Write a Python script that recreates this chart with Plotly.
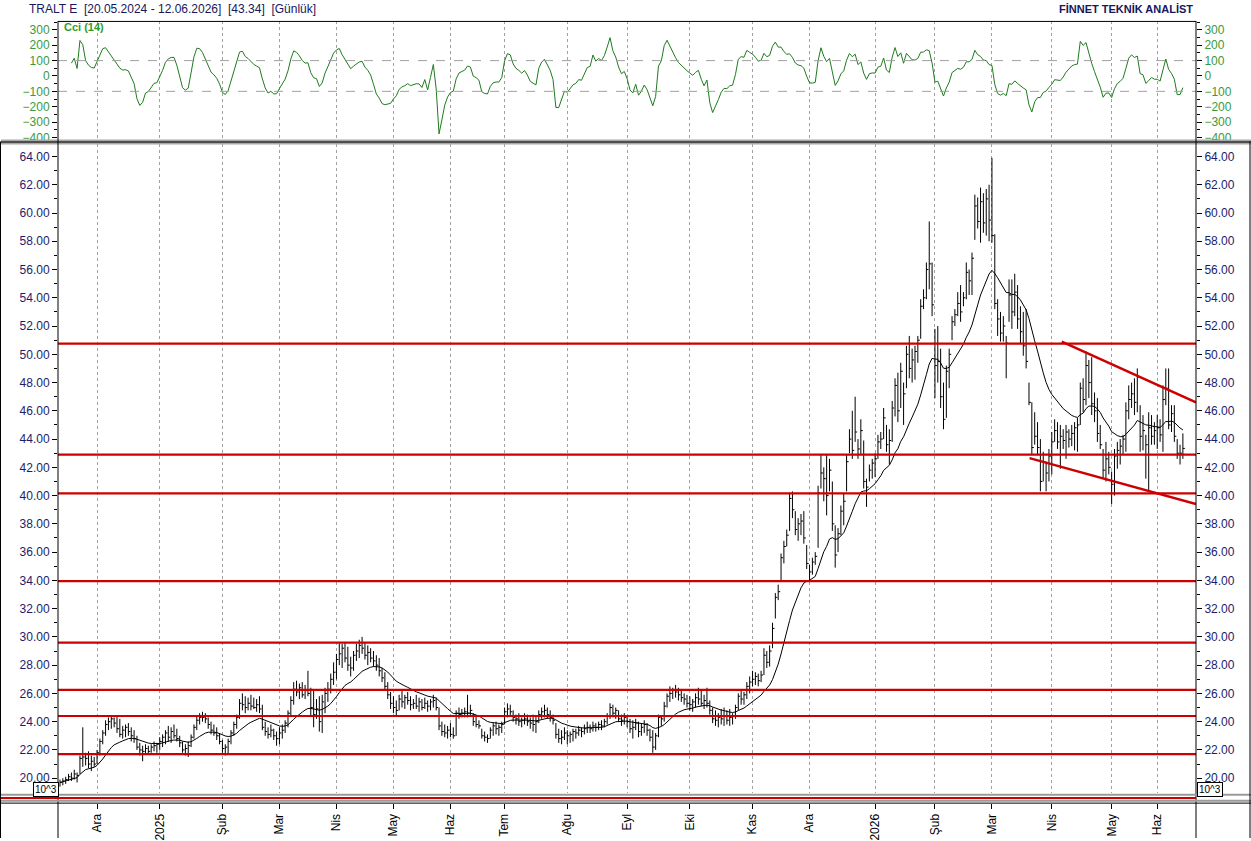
import numpy as np
import pandas as pd
import plotly.graph_objects as go

# ---------------- data ----------------
start_date = "2024-11-13"
end_date = "2026-06-12"
holidays = ["2025-01-01", "2025-03-31", "2025-04-01", "2025-04-23", "2025-05-01",
            "2025-05-19", "2025-06-06", "2025-06-09", "2025-07-15", "2025-10-29",
            "2026-01-01", "2026-03-20", "2026-04-23", "2026-05-01", "2026-05-19",
            "2026-05-27", "2026-05-28", "2026-05-29"]
month_names = ["Oca", "Şub", "Mar", "Nis", "May", "Haz", "Tem", "Ağu", "Eyl", "Eki", "Kas", "Ara"]

high = (
    [19.9, 20.0, 20.1, 20.3, 20.4, 20.6, 20.4, 21.6, 23.6, 21.8, 21.9, 21.6, 21.5]  # Nov24
    + [22.0, 22.8, 23.4, 24.1, 24.3, 24.4, 24.3, 24.4, 24.2, 23.7, 23.8, 23.9, 23.6, 23.4, 23.0, 22.5, 22.3, 22.4, 22.3, 22.4, 22.6, 22.5]
    + [22.9, 23.1, 23.4, 23.7, 23.6, 23.8, 23.5, 23.0, 22.6, 22.4, 22.6, 23.1, 23.8, 24.4, 24.6, 24.7, 24.6, 24.3, 24.0, 23.8, 23.6, 23.2]
    + [22.7, 22.4, 22.8, 23.4, 24.0, 24.5, 25.6, 26.0, 25.8, 25.7, 25.9, 25.7, 25.6, 25.8, 25.2, 24.0, 23.6, 23.8, 23.5, 23.3]
    + [23.6, 23.8, 24.1, 24.8, 25.8, 26.8, 26.9, 26.7, 26.8, 26.6, 27.6, 26.4, 26.3, 25.6, 25.8, 25.9, 26.4, 26.8, 27.4, 28.2]
    + [28.8, 29.6, 29.5, 29.6, 29.3, 28.6, 29.0, 29.5, 29.8, 30.0, 29.6, 29.4, 29.2, 29.0, 28.7, 28.5, 27.8, 27.5, 26.8, 26.1]
    + [25.8, 25.5, 25.9, 26.2, 25.9, 26.1, 25.8, 25.6, 25.9, 25.7, 25.6, 25.7, 25.5, 25.6, 25.9, 25.7, 25.0, 24.0, 23.8, 23.7]
    + [23.9, 23.6, 24.8, 25.0, 24.9, 25.0, 25.9, 25.2, 24.6, 24.4, 24.1, 23.5, 23.3, 23.1, 23.6, 23.9, 24.0, 23.8, 24.0]
    + [25.0, 25.3, 25.2, 24.8, 24.5, 24.6, 24.3, 24.6, 24.5, 24.3, 24.5, 24.4, 24.8, 25.0, 25.2, 25.0, 24.8, 24.5, 23.9, 23.5, 23.4, 23.6]
    + [23.4, 23.3, 23.5, 23.5, 23.7, 23.6, 23.8, 24.0, 23.8, 24.0, 23.9, 24.0, 24.1, 24.2, 24.6, 25.3, 25.2, 25.0, 24.8, 24.5, 24.6]
    + [24.4, 24.2, 24.1, 24.2, 24.0, 23.9, 24.1, 23.9, 23.5, 23.4, 23.2, 24.5, 24.4, 25.4, 26.0, 26.5, 26.4, 26.6, 26.4, 26.3, 26.0, 25.9]
    + [25.8, 25.6, 26.0, 26.4, 26.2, 25.9, 26.4, 25.5, 25.0, 24.8, 24.6, 24.9, 25.0, 24.8, 24.9, 24.6, 25.2, 26.0, 26.3, 26.1, 26.8, 27.2]
    + [27.6, 27.5, 27.4, 27.6, 29.2, 29.0, 29.4, 31.0, 33.1, 33.7, 35.9, 36.8, 37.6, 40.2, 40.3, 38.9, 38.4, 38.7, 38.9, 36.5]
    + [35.1, 35.6, 36.0, 40.7, 42.9, 42.0, 42.9, 42.6, 41.0, 37.9, 37.7, 39.3, 40.2, 42.9, 44.7, 46.0, 47.0, 44.0, 45.4, 43.9, 41.2, 42.2, 42.6]
    + [43.0, 44.3, 44.5, 46.2, 45.0, 44.7, 46.7, 48.3, 48.7, 49.4, 48.0, 50.6, 51.3, 50.4, 50.6, 51.3, 53.9, 54.6, 56.5, 59.4, 56.5]
    + [51.8, 52.0, 50.4, 48.0, 49.2, 50.4, 52.7, 53.2, 54.4, 54.9, 54.4, 56.5, 56.0, 57.2, 61.3, 61.1, 61.8, 61.4, 61.7, 62.0]
    + [63.9, 58.5, 53.9, 53.0, 52.7, 51.3, 55.3, 55.3, 55.7, 54.9, 53.4, 53.0, 53.2, 48.0, 46.6, 45.9, 45.2, 44.0, 43.1, 42.4, 43.3]
    + [44.5, 45.4, 45.2, 45.0, 44.7, 45.0, 44.7, 45.0, 45.2, 45.5, 48.0, 48.3, 50.2, 49.6, 49.8, 47.3, 46.9, 45.0, 43.3, 43.8, 43.1]
    + [41.7, 43.3, 43.8, 44.0, 44.3, 46.6, 47.8, 48.0, 48.3, 49.0, 46.4, 45.7, 44.3, 45.9, 45.7, 45.2]
    + [45.7, 45.4, 47.8, 49.0, 49.0, 46.4, 46.4, 44.0, 43.6, 44.4]
)
low = (
    [19.4, 19.5, 19.6, 19.8, 19.8, 19.9, 19.7, 20.3, 20.8, 20.9, 20.7, 20.5, 20.8]
    + [21.0, 21.6, 22.4, 23.0, 23.4, 23.5, 23.6, 23.2, 22.9, 22.8, 22.9, 23.0, 22.6, 22.5, 22.0, 21.6, 21.2, 21.7, 21.7, 21.8, 21.9, 21.8]
    + [22.0, 22.2, 22.4, 22.6, 22.5, 22.8, 22.6, 22.2, 21.8, 21.6, 21.5, 22.2, 22.8, 23.4, 23.8, 24.0, 23.9, 23.5, 23.1, 23.0, 22.7, 22.4]
    + [21.8, 21.6, 21.7, 22.4, 23.0, 23.5, 24.2, 24.8, 24.6, 24.8, 24.8, 24.9, 24.7, 24.6, 23.4, 23.0, 22.8, 22.9, 22.7, 22.3]
    + [22.4, 22.8, 23.2, 23.6, 24.4, 25.2, 25.8, 25.6, 25.7, 25.6, 25.8, 24.4, 23.6, 24.2, 23.3, 23.2, 24.6, 25.4, 26.0, 26.6]
    + [27.0, 28.0, 27.8, 28.2, 27.6, 27.2, 27.6, 28.3, 28.5, 28.8, 28.4, 28.0, 28.2, 27.9, 27.6, 27.2, 26.8, 26.2, 25.6, 24.9]
    + [24.6, 24.4, 24.8, 25.0, 24.9, 25.2, 24.8, 24.9, 24.9, 24.7, 24.8, 24.9, 24.7, 24.8, 25.0, 24.8, 23.4, 23.0, 22.9, 22.8]
    + [22.9, 22.8, 23.0, 24.2, 24.3, 24.3, 24.3, 24.4, 23.7, 23.6, 23.5, 22.8, 22.6, 22.5, 22.8, 23.0, 23.1, 23.0, 23.2]
    + [23.8, 24.3, 24.4, 24.0, 23.8, 23.7, 23.6, 23.8, 23.7, 23.5, 23.3, 23.2, 23.9, 24.2, 24.3, 24.2, 24.0, 23.8, 22.8, 22.5, 22.4, 22.7]
    + [22.4, 22.5, 22.6, 22.8, 23.0, 22.9, 23.1, 23.2, 23.2, 23.3, 23.3, 23.4, 23.4, 23.6, 23.8, 24.2, 24.3, 24.2, 24.0, 23.7, 23.8]
    + [23.6, 23.2, 22.8, 23.4, 22.9, 23.0, 23.2, 23.0, 22.6, 21.8, 22.0, 22.9, 23.7, 24.0, 25.0, 25.4, 25.6, 25.7, 25.5, 25.4, 25.2, 25.0]
    + [24.8, 24.7, 25.0, 25.2, 25.1, 24.9, 25.0, 24.5, 23.9, 23.7, 23.6, 23.8, 23.7, 23.8, 23.7, 23.8, 24.2, 24.8, 25.2, 25.2, 25.6, 26.0]
    + [26.5, 26.6, 26.5, 26.8, 27.3, 27.8, 27.9, 29.2, 31.3, 32.6, 33.9, 35.2, 36.4, 37.5, 38.4, 37.2, 36.8, 37.2, 36.6, 34.8]
    + [34.0, 34.4, 35.1, 36.3, 40.5, 39.6, 38.6, 40.3, 37.5, 34.9, 36.0, 37.2, 37.9, 40.3, 43.0, 42.6, 43.8, 42.6, 42.9, 40.5, 39.2, 41.0, 41.2]
    + [41.3, 42.6, 43.3, 44.0, 43.1, 42.2, 43.8, 45.6, 45.2, 46.2, 45.0, 47.6, 48.3, 48.0, 48.2, 49.4, 51.1, 53.2, 53.9, 54.6, 52.7]
    + [46.9, 48.0, 46.2, 44.7, 45.5, 47.6, 51.0, 52.0, 52.7, 52.3, 53.4, 53.9, 54.2, 54.2, 58.1, 58.9, 57.9, 58.6, 58.4, 58.0]
    + [57.9, 53.2, 51.3, 50.9, 50.9, 48.3, 52.3, 51.8, 52.7, 51.8, 50.8, 49.9, 49.0, 46.4, 42.9, 43.6, 42.9, 40.3, 41.0, 40.3, 41.0]
    + [41.5, 43.8, 43.3, 41.9, 43.3, 42.6, 43.4, 43.5, 43.2, 43.1, 45.0, 45.9, 46.4, 46.9, 45.7, 45.2, 43.8, 43.3, 41.2, 41.0, 41.5]
    + [39.4, 40.0, 41.9, 42.2, 42.9, 43.1, 45.4, 46.2, 45.7, 45.9, 43.1, 43.2, 41.2, 40.3, 43.6, 43.6]
    + [43.3, 43.8, 43.1, 46.4, 44.7, 44.5, 43.8, 42.6, 42.2, 42.6]
)
close = (
    [19.7, 19.8, 19.9, 20.1, 20.0, 20.3, 20.2, 21.4, 21.5, 21.4, 21.0, 21.2, 21.0]
    + [21.8, 22.6, 23.2, 23.8, 24.0, 24.2, 23.9, 23.5, 23.1, 23.4, 23.6, 23.3, 23.0, 22.8, 22.2, 22.0, 21.9, 22.1, 21.9, 22.2, 22.3, 22.4]
    + [22.6, 22.9, 23.2, 22.9, 23.3, 23.0, 22.8, 22.5, 22.0, 22.1, 22.3, 22.9, 23.6, 24.1, 24.3, 24.3, 24.2, 23.8, 23.4, 23.2, 23.0, 22.6]
    + [22.1, 22.2, 22.6, 23.2, 23.8, 24.3, 25.3, 25.2, 25.0, 25.3, 25.1, 25.0, 25.2, 24.9, 23.6, 23.3, 23.1, 23.4, 23.0, 22.8]
    + [23.2, 23.4, 23.9, 24.6, 25.5, 26.3, 26.1, 26.4, 25.9, 26.2, 26.0, 25.0, 24.5, 24.9, 24.0, 25.4, 26.0, 26.3, 27.0, 27.5]
    + [28.4, 28.8, 29.2, 28.5, 28.0, 27.8, 28.7, 29.0, 29.4, 29.2, 28.7, 28.9, 28.5, 28.3, 28.0, 27.6, 27.1, 26.5, 25.9, 25.3]
    + [25.0, 24.8, 25.6, 25.4, 25.7, 25.5, 25.2, 25.3, 25.1, 25.4, 25.0, 25.3, 25.1, 25.4, 25.5, 25.0, 23.7, 23.3, 23.2, 23.4]
    + [23.1, 23.0, 24.6, 24.5, 24.6, 24.7, 24.6, 24.8, 24.0, 23.8, 23.7, 23.0, 22.9, 22.8, 23.4, 23.7, 23.5, 23.6, 23.8]
    + [24.7, 24.9, 24.7, 24.3, 24.2, 24.0, 24.1, 24.2, 24.0, 23.9, 23.8, 24.0, 24.5, 24.7, 24.8, 24.5, 24.3, 24.1, 23.1, 22.8, 22.9, 23.2]
    + [23.0, 23.1, 23.3, 23.2, 23.4, 23.3, 23.5, 23.6, 23.5, 23.7, 23.6, 23.8, 23.7, 24.0, 24.4, 25.0, 24.6, 24.8, 24.2, 24.1, 24.3]
    + [24.0, 23.5, 23.6, 23.9, 23.3, 23.6, 23.8, 23.4, 22.9, 22.2, 23.0, 24.3, 24.2, 25.1, 25.8, 26.0, 26.2, 26.1, 25.9, 25.7, 25.6, 25.3]
    + [25.2, 25.4, 25.7, 25.6, 25.3, 25.5, 25.3, 24.8, 24.2, 24.1, 24.3, 24.2, 24.4, 24.1, 24.3, 24.4, 25.0, 25.8, 25.6, 25.9, 26.5, 26.8]
    + [27.0, 27.2, 26.9, 27.3, 28.7, 28.2, 29.0, 30.6, 32.8, 33.2, 35.6, 36.4, 37.2, 39.8, 39.0, 37.6, 38.0, 38.2, 37.0, 35.2]
    + [34.6, 35.3, 35.7, 40.2, 41.6, 41.2, 40.0, 41.8, 38.0, 35.8, 37.3, 38.9, 39.6, 42.4, 44.0, 43.2, 44.5, 43.3, 44.6, 41.0, 40.6, 41.8, 42.3]
    + [42.6, 43.8, 44.0, 45.5, 43.6, 43.9, 46.2, 47.8, 46.0, 48.8, 47.2, 50.0, 49.0, 49.6, 50.2, 51.0, 53.4, 54.0, 56.0, 56.4, 53.5]
    + [49.2, 49.5, 47.0, 45.4, 48.8, 50.0, 52.3, 52.8, 53.6, 53.0, 54.0, 55.8, 55.2, 56.8, 60.5, 59.4, 60.8, 59.3, 61.0, 59.5]
    + [58.4, 53.6, 52.5, 51.5, 52.0, 50.8, 54.2, 53.0, 54.4, 52.5, 51.6, 50.6, 49.5, 46.6, 43.4, 44.2, 43.4, 41.0, 42.4, 41.6, 42.8]
    + [43.8, 44.6, 43.8, 44.2, 43.9, 44.5, 44.0, 44.4, 44.8, 45.0, 47.6, 46.8, 49.2, 48.0, 46.5, 46.0, 44.4, 43.6, 41.8, 42.6, 42.0]
    + [40.8, 42.8, 43.2, 43.5, 44.0, 46.0, 46.8, 47.2, 46.6, 48.4, 44.2, 44.6, 43.6, 44.8, 44.2, 44.6]
    + [44.8, 44.3, 46.8, 47.6, 45.0, 45.8, 44.2, 43.0, 43.0, 43.34]
)

levels = [50.75, 42.9, 40.15, 33.95, 29.6, 26.25, 24.4, 21.7]
trend_up_x = [351.5, 398.6]
trend_up_y = [50.9, 46.6]
trend_dn_x = [340.2, 398.6]
trend_dn_y = [42.65, 39.4]
cci_bands = [100, -100]
price_ticks = list(range(20, 65, 2))
cci_ticks = list(range(-400, 301, 100))

# ---------------- derived ----------------
n = min(len(high), len(low), len(close))
high, low, close = high[:n], low[:n], close[:n]
dates = pd.bdate_range(start_date, end_date)
dates = dates[~dates.isin(pd.to_datetime(holidays))][:n]
idx = np.arange(n)

tick_idx, tick_txt = [], []
for i in range(1, len(dates)):
    if dates[i].month != dates[i - 1].month:
        tick_idx.append(i)
        tick_txt.append(str(dates[i].year) if dates[i].month == 1 else month_names[dates[i].month - 1])

c = pd.Series(close)
tp = (pd.Series(high) + pd.Series(low) + c) / 3
sma = tp.rolling(14, min_periods=5).mean()
md = tp.rolling(14, min_periods=5).apply(lambda a: np.mean(np.abs(a - a.mean())), raw=True)
cci = ((tp - sma) / (0.015 * md)).replace([np.inf, -np.inf], np.nan)
ma = c.ewm(span=20, adjust=True).mean()

bx, by = [], []
for i in range(n):
    bx += [i, i, None, i, i + 0.7, None]
    by += [low[i], high[i], None, close[i], close[i], None]

# ---------------- figure ----------------
W, H = 1251, 841
FONT = "Liberation Sans, Arial, sans-serif"
NAVY = "#1c1c6b"
GREEN = "#3a9a3a"
RED = "#cc0000"


def fx(px):
    return px / W


def fy(py):
    return 1 - py / H


XR = [-0.7, 398.6]
XD = [fx(58), fx(1196)]
YR = [18.94, 64.85]
CR = [-426, 358]

fig = go.Figure()
fig.add_trace(go.Scatter(x=bx, y=by, mode="lines", line=dict(color="black", width=1),
                         hoverinfo="skip", xaxis="x", yaxis="y"))
fig.add_trace(go.Scatter(x=idx, y=ma, mode="lines", line=dict(color="black", width=1),
                         xaxis="x", yaxis="y"))
fig.add_trace(go.Scatter(x=trend_up_x, y=trend_up_y, mode="lines", line=dict(color=RED, width=2.5),
                         xaxis="x", yaxis="y"))
fig.add_trace(go.Scatter(x=trend_dn_x, y=trend_dn_y, mode="lines", line=dict(color=RED, width=2.5),
                         xaxis="x", yaxis="y"))
fig.add_trace(go.Scatter(x=idx, y=cci, mode="lines", line=dict(color="#1e7b1e", width=1),
                         xaxis="x2", yaxis="y2"))
fig.add_trace(go.Scatter(x=[0], y=[40], mode="markers", marker=dict(opacity=0),
                         xaxis="x", yaxis="y3", hoverinfo="skip"))
fig.add_trace(go.Scatter(x=[0], y=[0], mode="markers", marker=dict(opacity=0),
                         xaxis="x2", yaxis="y4", hoverinfo="skip"))
fig.add_trace(go.Scatter(x=[0], y=[0.5], mode="markers", marker=dict(opacity=0),
                         xaxis="x3", yaxis="y5", hoverinfo="skip"))

grid = dict(showgrid=True, gridcolor="#a0a0a0", griddash="dot", gridwidth=1)
xcommon = dict(domain=XD, range=XR, tickvals=tick_idx, zeroline=False, showline=False)

ycommon = dict(range=YR, tickvals=price_ticks, tickformat=".2f", ticks="outside", ticklen=5,
               tickcolor="black", tickfont=dict(size=12, color=NAVY, family=FONT),
               minor=dict(dtick=1, ticks="outside", ticklen=3, tickcolor="black"),
               showgrid=False, zeroline=False, showline=False)
ccommon = dict(range=CR, tickvals=cci_ticks, ticks="outside", ticklen=5, tickcolor="black",
               tickfont=dict(size=12, color=GREEN, family=FONT),
               minor=dict(dtick=50, ticks="outside", ticklen=3, tickcolor="black"),
               showgrid=False, zeroline=False, showline=False)

fig.update_layout(
    width=W, height=H, autosize=False, margin=dict(l=0, r=0, t=0, b=0),
    paper_bgcolor="white", plot_bgcolor="white", showlegend=False,
    font=dict(family=FONT),
    xaxis=dict(**xcommon, anchor="y", showticklabels=False, ticks="", **grid),
    xaxis2=dict(**xcommon, anchor="y2", matches="x", showticklabels=False, ticks="", **grid),
    xaxis3=dict(**xcommon, anchor="y5", matches="x", ticktext=tick_txt, tickangle=-90,
                ticks="outside", ticklen=5, tickcolor="black", showgrid=False,
                tickfont=dict(size=12, color="black", family=FONT)),
    yaxis=dict(**ycommon, domain=[fy(796), fy(145)], anchor="x", side="left"),
    yaxis3=dict(**ycommon, overlaying="y", anchor="x", side="right"),
    yaxis2=dict(**ccommon, domain=[fy(142), fy(21)], anchor="x2", side="left"),
    yaxis4=dict(**ccommon, overlaying="y2", anchor="x2", side="right"),
    yaxis5=dict(domain=[fy(806), fy(797)], range=[0, 1], anchor="x3", visible=False),
)

shapes = []
for lv in levels:
    shapes.append(dict(type="line", xref="x domain", yref="y", x0=0, x1=1, y0=lv, y1=lv,
                       line=dict(color=RED, width=2.2)))
for b in cci_bands:
    shapes.append(dict(type="line", xref="x2 domain", yref="y2", x0=0, x1=1, y0=b, y1=b,
                       line=dict(color="#a0a0a0", width=1, dash="dash")))


def hline(py, x0, x1, color, width):
    shapes.append(dict(type="line", xref="paper", yref="paper", x0=fx(x0), x1=fx(x1),
                       y0=fy(py), y1=fy(py), line=dict(color=color, width=width)))


def vline(px, y0, y1, color, width):
    shapes.append(dict(type="line", xref="paper", yref="paper", x0=fx(px), x1=fx(px),
                       y0=fy(y0), y1=fy(y1), line=dict(color=color, width=width)))


# frames
shapes.append(dict(type="rect", xref="paper", yref="paper", x0=fx(1), x1=1, y0=fy(145), y1=fy(140),
                   fillcolor="#a8a8a8", line=dict(width=0)))
hline(142.5, 1, W, "#303030", 1.5)
hline(21.5, 58, 1196, "black", 1)
vline(58, 21, 841, "black", 1)
vline(1196, 21, 841, "black", 1)
hline(797.5, 1, W, "#9a9a9a", 2)
hline(800.8, 1, 1196, RED, 2)
hline(803.5, 1, W, "#9a9a9a", 2)
hline(806, 1, W, "black", 1)
vline(0.5, 142, 841, "black", 1)
vline(1250, 142, 841, "black", 1)

annotations = [
    dict(xref="paper", yref="paper", x=fx(27), y=fy(9), xanchor="left", yanchor="middle",
         text="TRALT E\u00a0\u00a0[20.05.2024 - 12.06.2026]\u00a0\u00a0[43.34]\u00a0\u00a0[Günlük]",
         showarrow=False, font=dict(size=12, color="#17175a", family=FONT)),
    dict(xref="paper", yref="paper", x=fx(1195), y=fy(9), xanchor="right", yanchor="middle",
         text="<b>FİNNET TEKNİK ANALİST</b>", showarrow=False,
         font=dict(size=11, color="#17175a", family=FONT)),
    dict(xref="paper", yref="paper", x=fx(62), y=fy(27), xanchor="left", yanchor="middle",
         text="<b>Cci (14)</b>", showarrow=False, font=dict(size=11, color="#2e9e2e", family=FONT)),
    dict(xref="paper", yref="paper", x=fx(46), y=fy(792), xanchor="center", yanchor="middle",
         text="10^3", showarrow=False, bordercolor="black", borderwidth=1, borderpad=1,
         bgcolor="white", font=dict(size=10, color="black", family=FONT)),
    dict(xref="paper", yref="paper", x=fx(1210), y=fy(792), xanchor="center", yanchor="middle",
         text="10^3", showarrow=False, bordercolor="black", borderwidth=1, borderpad=1,
         bgcolor="white", font=dict(size=10, color="black", family=FONT)),
]
fig.update_layout(shapes=shapes, annotations=annotations)

fig.write_html("out.html")
